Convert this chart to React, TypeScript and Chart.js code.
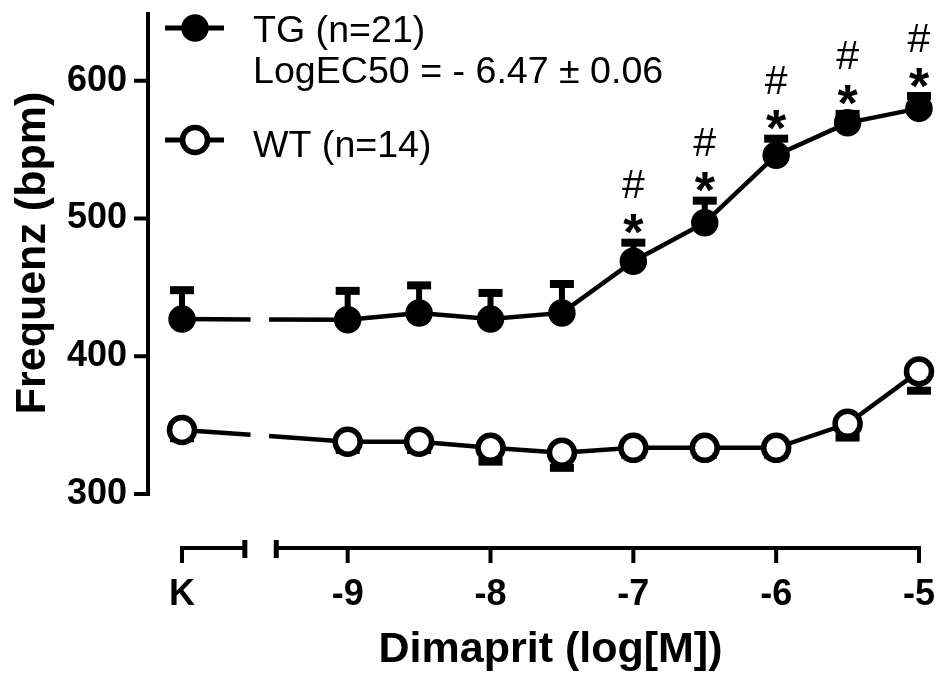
import React, { useEffect, useRef } from 'react';
import { Chart, registerables } from 'chart.js';

Chart.register(...registerables);

// ---- data ----
const doseCategories = ['K', '-9', '-8.5', '-8', '-7.5', '-7', '-6.5', '-6', '-5.5', '-5'];
const xPositions = [-10.16, -9, -8.5, -8, -7.5, -7, -6.5, -6, -5.5, -5];
const tgMean = [427, 426.5, 431.5, 427, 431.5, 469, 497, 546, 569.5, 580];
const tgSem = [21, 21, 20, 19, 21, 13.5, 16, 12, 6.5, 9];
const wtMean = [346.5, 338, 338, 333.5, 330, 333.5, 333.5, 333.5, 351, 389];
const wtSem = [6, 6, 6, 10, 11, 5, 5, 5, 10, 14];
const tgStar = [false, false, false, false, false, true, true, true, true, true];
const tgHash = [false, false, false, false, false, true, true, true, true, true];

const xTickValues = [-10.16, -9, -8, -7, -6, -5];
const xTickLabels = ['K', '-9', '-8', '-7', '-6', '-5'];
const yTickValues = [300, 400, 500, 600];
const xMin = -10.16;
const xMax = -5;
const yMin = 300;
const yMax = 650;
const axisBreak = [-9.72, -9.5];
const lineBreak = [-9.68, -9.55];

const tgLabel = 'TG (n=21)';
const tgFit = 'LogEC50 = - 6.47 \u00b1 0.06';
const wtLabel = 'WT (n=14)';
const yTitle = 'Frequenz (bpm)';
const xTitle = 'Dimaprit (log[M])';

const FONT = "'Liberation Sans', Arial, Helvetica, sans-serif";

const breakDash = (ctx: any) => {
  if (ctx.p0DataIndex !== 0) return undefined;
  const xs = ctx.chart.scales.x;
  const b0 = xs.getPixelForValue(lineBreak[0]);
  const b1 = xs.getPixelForValue(lineBreak[1]);
  const dx = ctx.p1.x - ctx.p0.x;
  const L = Math.hypot(dx, ctx.p1.y - ctx.p0.y);
  const f0 = (b0 - ctx.p0.x) / dx;
  const f1 = (b1 - ctx.p0.x) / dx;
  return [f0 * L, (f1 - f0) * L, L * 2];
};

const drawMarker = (ctx: CanvasRenderingContext2D, x: number, y: number, filled: boolean) => {
  ctx.beginPath();
  ctx.arc(x, y, filled ? 12 : 12.5, 0, Math.PI * 2);
  ctx.fillStyle = filled ? '#000' : '#fff';
  ctx.fill();
  ctx.lineWidth = filled ? 3.5 : 5.5;
  ctx.strokeStyle = '#000';
  ctx.stroke();
};

const customPlugin = {
  id: 'customDraw',
  beforeDatasetsDraw(chart: any) {
    const { ctx, chartArea: area } = chart;
    const xs = chart.scales.x;
    const ys = chart.scales.y;
    ctx.save();
    ctx.strokeStyle = '#000';
    ctx.fillStyle = '#000';
    ctx.lineCap = 'butt';
    ctx.lineWidth = 4;
    // y axis
    const ax = area.left - 34;
    ctx.beginPath();
    ctx.moveTo(ax, ys.getPixelForValue(yMax));
    ctx.lineTo(ax, ys.getPixelForValue(yMin) + 2);
    for (const v of yTickValues) {
      const y = ys.getPixelForValue(v);
      ctx.moveTo(ax - 14, y);
      ctx.lineTo(ax + 2, y);
    }
    ctx.stroke();
    // x axis with break
    const ay = area.bottom + 54;
    const k = xs.getPixelForValue(xMin);
    const b0 = xs.getPixelForValue(axisBreak[0]);
    const b1 = xs.getPixelForValue(axisBreak[1]);
    const xr = xs.getPixelForValue(xMax);
    ctx.beginPath();
    ctx.moveTo(k - 2, ay);
    ctx.lineTo(b0, ay);
    ctx.moveTo(b1, ay);
    ctx.lineTo(xr + 2, ay);
    for (const v of xTickValues) {
      const x = xs.getPixelForValue(v);
      ctx.moveTo(x, ay - 2);
      ctx.lineTo(x, ay + 15);
    }
    ctx.stroke();
    ctx.lineWidth = 5;
    ctx.beginPath();
    ctx.moveTo(b0, ay - 8);
    ctx.lineTo(b0, ay + 10);
    ctx.moveTo(b1, ay - 8);
    ctx.lineTo(b1, ay + 10);
    ctx.stroke();

    // error bars (SEM)
    const series = [
      { mean: tgMean, sem: tgSem, dir: 1 },
      { mean: wtMean, sem: wtSem, dir: -1 },
    ];
    for (const s of series) {
      for (let i = 0; i < xPositions.length; i++) {
        const x = xs.getPixelForValue(xPositions[i]);
        const y0 = ys.getPixelForValue(s.mean[i]);
        const y1 = ys.getPixelForValue(s.mean[i] + s.dir * s.sem[i]);
        ctx.fillRect(x - 3, Math.min(y0, y1), 6, Math.abs(y1 - y0));
        ctx.fillRect(x - 12, y1 - 4, 24, 8);
      }
    }
    ctx.restore();
  },
  afterDraw(chart: any) {
    const { ctx, chartArea: area } = chart;
    const xs = chart.scales.x;
    const ys = chart.scales.y;
    ctx.save();
    ctx.fillStyle = '#000';
    // significance marks
    ctx.textAlign = 'center';
    ctx.textBaseline = 'alphabetic';
    for (let i = 0; i < xPositions.length; i++) {
      const x = xs.getPixelForValue(xPositions[i]);
      const capTop = ys.getPixelForValue(tgMean[i] + tgSem[i]) - 4;
      const starC = capTop - 18;
      if (tgStar[i]) {
        ctx.font = `bold 52px ${FONT}`;
        ctx.fillText('*', x, starC + 29.5);
      }
      if (tgHash[i]) {
        ctx.font = `41px ${FONT}`;
        ctx.fillText('#', x, starC - 37 + 14.5);
      }
    }
    // legend
    ctx.strokeStyle = '#000';
    ctx.lineWidth = 5;
    ctx.beginPath();
    ctx.moveTo(165, 28);
    ctx.lineTo(224, 28);
    ctx.moveTo(165, 140);
    ctx.lineTo(224, 140);
    ctx.stroke();
    drawMarker(ctx, 195, 28, true);
    drawMarker(ctx, 195, 140, false);
    ctx.fillStyle = '#000';
    ctx.textAlign = 'left';
    ctx.font = `37.6px ${FONT}`;
    ctx.fillText(tgLabel, 253, 42);
    ctx.fillText(tgFit, 253, 83);
    ctx.fillText(wtLabel, 253, 157);
    // axis titles
    ctx.font = `bold 43px ${FONT}`;
    ctx.textAlign = 'center';
    ctx.fillText(xTitle, (area.left + area.right) / 2, 662);
    ctx.save();
    ctx.translate(45, (area.top + area.bottom) / 2);
    ctx.rotate(-Math.PI / 2);
    ctx.fillText(yTitle, 0, 0);
    ctx.restore();
    ctx.restore();
  },
};

const tickFont = { family: FONT, size: 36, weight: 'bold' as const, lineHeight: 1.2 };

export default function App() {
  const ref = useRef<HTMLCanvasElement>(null);
  useEffect(() => {
    if (!ref.current) return;
    Chart.defaults.color = '#000';
    const chart = new Chart(ref.current, {
      type: 'line',
      data: {
        labels: doseCategories,
        datasets: [
          {
            label: tgLabel,
            data: xPositions.map((x, i) => ({ x, y: tgMean[i] })),
            borderColor: '#000',
            borderWidth: 4.5,
            backgroundColor: '#000',
            pointBackgroundColor: '#000',
            pointBorderColor: '#000',
            pointRadius: 12,
            pointBorderWidth: 3.5,
            pointHoverRadius: 12,
            tension: 0,
            clip: false as any,
            segment: { borderDash: breakDash },
          },
          {
            label: wtLabel,
            data: xPositions.map((x, i) => ({ x, y: wtMean[i] })),
            borderColor: '#000',
            borderWidth: 4.5,
            backgroundColor: '#fff',
            pointBackgroundColor: '#fff',
            pointBorderColor: '#000',
            pointRadius: 12.5,
            pointBorderWidth: 5.5,
            pointHoverRadius: 12.5,
            tension: 0,
            clip: false as any,
            segment: { borderDash: breakDash },
          },
        ],
      },
      options: {
        animation: false,
        responsive: false,
        events: [],
        layout: { autoPadding: false, padding: { top: 12, right: 21, left: 0, bottom: 0 } },
        plugins: { legend: { display: false }, tooltip: { enabled: false }, title: { display: false } },
        scales: {
          x: {
            type: 'linear',
            min: xMin,
            max: xMax,
            grid: { display: false, drawTicks: false },
            border: { display: false },
            afterBuildTicks: (s: any) => {
              s.ticks = xTickValues.map((v) => ({ value: v }));
            },
            afterFit: (s: any) => {
              s.height = 179;
              s.paddingLeft = 0;
              s.paddingRight = 0;
              s.paddingTop = 0;
              s.paddingBottom = 0;
            },
            ticks: {
              padding: 79,
              autoSkip: false,
              maxRotation: 0,
              minRotation: 0,
              color: '#000',
              font: tickFont,
              callback: (_v: any, i: number) => xTickLabels[i],
            },
          },
          y: {
            type: 'linear',
            min: yMin,
            max: yMax,
            grid: { display: false, drawTicks: false },
            border: { display: false },
            afterBuildTicks: (s: any) => {
              s.ticks = yTickValues.map((v) => ({ value: v }));
            },
            afterFit: (s: any) => {
              s.width = 182;
              s.paddingLeft = 0;
              s.paddingRight = 0;
              s.paddingTop = 0;
              s.paddingBottom = 0;
            },
            ticks: {
              padding: 55,
              color: '#000',
              font: tickFont,
              callback: (v: any) => String(v),
            },
          },
        },
      },
      plugins: [customPlugin],
    } as any);
    return () => chart.destroy();
  }, []);
  return (
    <div style={{ position: 'absolute', left: 0, top: 0, width: 940, height: 673, background: '#fff' }}>
      <canvas ref={ref} width={940} height={673} style={{ display: 'block', width: 940, height: 673 }} />
    </div>
  );
}
